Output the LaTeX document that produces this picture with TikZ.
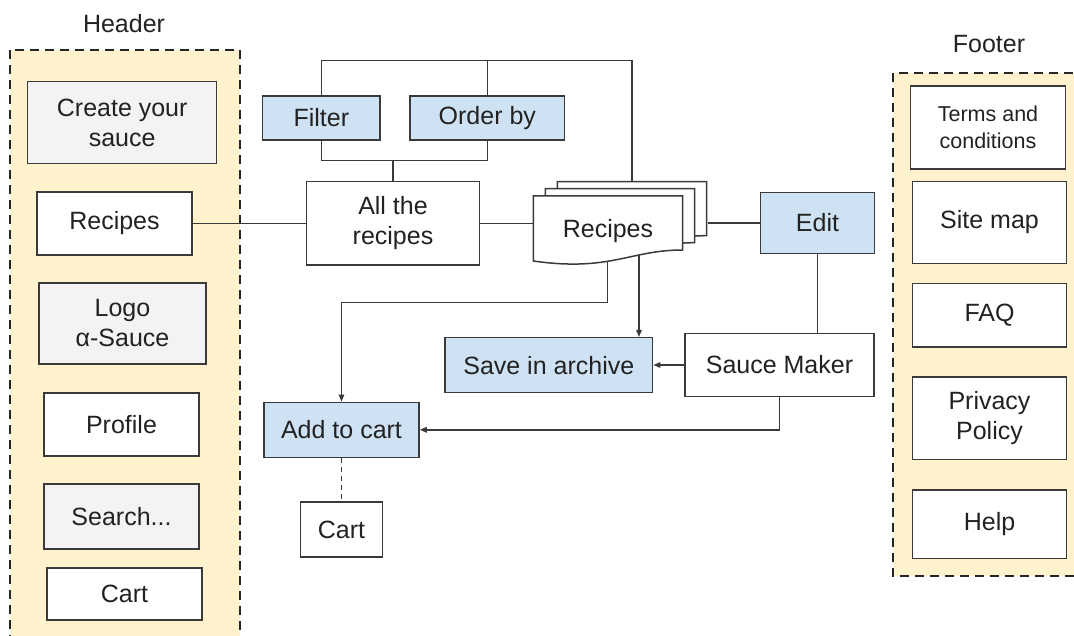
\documentclass[tikz,border=0pt]{standalone}
\usepackage{fontspec}
\setmainfont{Liberation Sans}
\usetikzlibrary{arrows.meta}
\pgfdeclarelayer{back}
\pgfdeclarelayer{lines}
\pgfsetlayers{back,lines,main}
\definecolor{panelfill}{HTML}{FFF2CC}
\definecolor{bluefill}{HTML}{CFE2F3}
\definecolor{grayfill}{HTML}{F3F3F3}
\definecolor{edgecol}{HTML}{3A3A3A}
\definecolor{ink}{HTML}{222222}
\begin{document}
\begin{tikzpicture}[x=1pt,y=-1pt,
  box/.style={draw=edgecol, line width=1.5pt, fill=white, inner sep=0pt, align=center, text=ink, font=\fontsize{25}{30}\selectfont},
  gbox/.style={box, fill=grayfill},
  bbox/.style={box, fill=bluefill},
  conn/.style={draw=edgecol, line width=1.5pt},
  arr/.style={conn, -{Triangle[length=7pt,width=5.5pt]}},
  panel/.style={draw=black!85, fill=panelfill, line width=2pt, dash pattern=on 9pt off 6pt},
  lbl/.style={text=ink, font=\fontsize{25}{30}\selectfont}]
\useasboundingbox (0,0) rectangle (1074,636);

% panels
\begin{pgfonlayer}{back}
\draw[panel] (10,50) rectangle (239.5,660);
\draw[panel] (892.7,73) rectangle (1095,575.6);
\end{pgfonlayer}

\node[lbl] (hdr) at (124,23.5) {Header};
\node[lbl] (ftr) at (989,44) {Footer};

% header items
\node[gbox, minimum width=189pt, minimum height=82.3pt] (create) at (122.2,122.5) {Create your\\sauce};
\node[box, minimum width=155pt, minimum height=63pt] (hrec) at (114.5,223.5) {\raisebox{-1.5pt}{Recipes}};
\node[gbox, minimum width=167pt, minimum height=81pt] (logo) at (122.5,323.5) {Logo\\α-Sauce};
\node[box, minimum width=155pt, minimum height=63pt] (profile) at (121.5,424.5) {Profile};
\node[gbox, minimum width=155pt, minimum height=65pt] (search) at (121.5,516.5) {Search...};
\node[box, minimum width=155pt, minimum height=52pt] (hcart) at (124.5,594) {Cart};

% footer items
\node[box, minimum width=154.6pt, minimum height=83pt, font=\fontsize{21.5}{26.5}\selectfont] (terms) at (988,127.5) {Terms and\\conditions};
\node[box, minimum width=154.4pt, minimum height=81.6pt] (sitemap) at (989.5,222.5) {\raisebox{-1.5pt}{Site map}};
\node[box, minimum width=154.4pt, minimum height=63.3pt] (faq) at (989.5,315.2) {FAQ};
\node[box, minimum width=154.4pt, minimum height=82.5pt] (privacy) at (989.5,418.2) {Privacy\\Policy};
\node[box, minimum width=154.4pt, minimum height=68.4pt] (help) at (989.5,524.2) {Help};

% middle
\node[bbox, minimum width=117.3pt, minimum height=44pt] (filter) at (321.3,118) {Filter};
\node[bbox, minimum width=154.7pt, minimum height=44pt] (orderby) at (487.3,118) {\raisebox{-1.5pt}{Order by}};
\node[box, minimum width=172.6pt, minimum height=83.3pt] (allrec) at (393,223.3) {All the\\recipes};
\node[bbox, minimum width=113.6pt, minimum height=60.6pt] (edit) at (817.5,223) {Edit};
\node[box, minimum width=189pt, minimum height=63.4pt] (sauce) at (779.5,365) {Sauce Maker};
\node[bbox, minimum width=207.7pt, minimum height=55pt] (archive) at (548.8,365.2) {Save in archive};
\node[bbox, minimum width=155pt, minimum height=55pt] (addcart) at (341.5,429.8) {Add to cart};
\node[box, minimum width=81.6pt, minimum height=55pt] (cart) at (341.5,529.5) {Cart};

% document stack
\foreach \dx/\dy in {24/-14.3, 12/-7.3, 0/0} {
  \draw[conn, fill=white, shift={(\dx,\dy)}] (533.3,196) -- (682.5,196) -- (682.5,250)
    .. controls (630,250) and (610,272) .. (533.3,261) -- cycle;
}
\node[lbl] (docs) at (608,231) {Recipes};
\coordinate (docL) at (533.3,222.7);
\coordinate (docR) at (707.7,222.5);
\coordinate (docTop) at (632,181.7);
\coordinate (docB1) at (607.7,240);
\coordinate (docB2) at (639,240);
\coordinate (topR) at (632,60.7);
\coordinate (midbr) at (392,160.7);
\coordinate (turn1) at (607.7,302.3);

% connectors
\begin{pgfonlayer}{lines}
\draw[conn] (hrec.east) -- (hrec.east -| allrec.west);
\draw[conn] (allrec.east) -- (allrec.east -| docL);
\draw[conn] (docR |- edit.west) -- (edit.west);
\draw[conn] (filter.north) |- (topR) -- (docTop);
\draw[conn] (orderby.north) -- (orderby.north |- topR);
\draw[conn] (filter.south) |- (midbr) -| (orderby.south);
\draw[conn] (allrec.north) -- (allrec.north |- midbr);
\draw[conn] (edit.south) -- (edit.south |- sauce.north);
\draw[arr] (sauce.west) -- (sauce.west -| archive.east);
\draw[arr] (docB2) -- (docB2 |- archive.north);
\draw[arr] (docB1) -- (turn1) -| (addcart.north);
\draw[arr] (sauce.south) |- (addcart.east);
\draw[conn, dash pattern=on 5pt off 4pt] (addcart.south) -- (cart.north);
\end{pgfonlayer}
\end{tikzpicture}
\end{document}
